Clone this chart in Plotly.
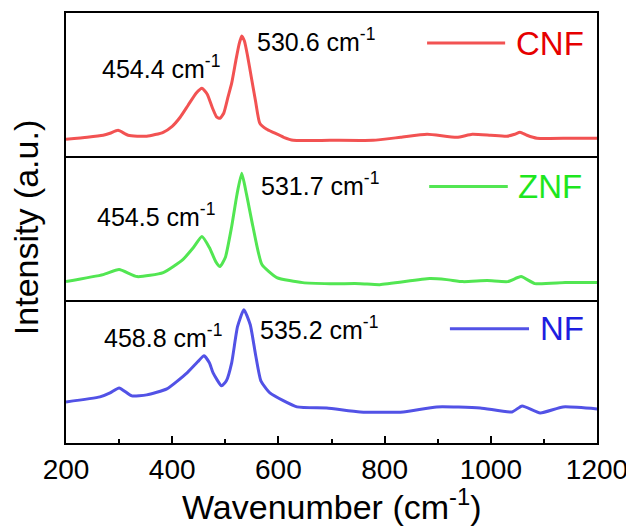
import plotly.graph_objects as go
from plotly.subplots import make_subplots

# ---- data (wavenumber in cm^-1, intensity in arbitrary units) ----
cnf_x = [200, 240, 270, 283, 298, 317, 352, 383, 400, 415, 430, 445, 456, 466, 476, 484, 490, 497, 505, 512,
         520, 526, 531, 536, 542, 549, 557, 565, 578, 590, 610, 628, 697, 778, 830, 880, 936, 965, 1000, 1030,
         1045, 1055, 1068, 1087, 1150, 1200]
cnf_y = [17, 19, 21, 23, 26, 21, 20, 24, 30, 39, 51, 63, 68, 62, 48, 39, 38, 43, 59, 73,
         96, 112, 120, 115, 100, 79, 55, 33, 27, 24, 19, 16, 16, 16, 19, 22, 19, 22, 21, 20,
         22, 24, 21, 18, 18, 18]

znf_x = [200, 270, 300, 334, 383, 420, 440, 456, 470, 482, 490, 500, 512, 522, 531, 540, 552, 569, 597, 646,
         697, 754, 791, 885, 917, 948, 993, 1032, 1057, 1083, 1140, 1200]
znf_y = [18, 25, 30, 23, 27, 40, 52, 63, 52, 38, 33, 42, 73, 105, 126, 105, 73, 35, 22, 17,
         16, 16, 15, 21, 20, 18, 19, 18, 23, 16, 17, 17]

nf_x = [200, 264, 283, 300, 324, 352, 390, 428, 448, 460, 470, 477, 493, 502, 512, 523, 535, 547, 557, 567,
        584, 635, 691, 754, 835, 898, 980, 1040, 1059, 1093, 1136, 1200]
nf_y = [41, 46, 50, 55, 47, 48, 54, 70, 81, 87, 80, 70, 57, 62, 80, 116, 133, 118, 88, 62,
        50, 36, 35, 31, 31, 36, 35, 31, 37, 30, 36, 34]

series_names = ["CNF", "ZNF", "NF"]
peak_labels = [["454.4", "530.6"], ["454.5", "531.7"], ["458.8", "535.2"]]
x_ticks = [200, 400, 600, 800, 1000, 1200]

line_colors = ["#f25252", "#52e652", "#5252e6"]
text_colors = ["#e60000", "#1ee61e", "#1e1ee0"]

fig = make_subplots(rows=3, cols=1, shared_xaxes=True, vertical_spacing=0)

data = [(cnf_x, cnf_y), (znf_x, znf_y), (nf_x, nf_y)]
for i, (xs, ys) in enumerate(data):
    fig.add_trace(go.Scatter(x=xs, y=ys, mode="lines", name=series_names[i],
                             line=dict(color=line_colors[i], width=3, shape="spline", smoothing=0.5),
                             showlegend=False), row=i + 1, col=1)

FONT = "Liberation Sans, Arial, sans-serif"

for r in range(1, 4):
    fig.update_yaxes(range=[0, 143], showline=True, mirror=True, linecolor="black", linewidth=2,
                     ticks="", showticklabels=False, showgrid=False, zeroline=False, automargin=False,
                     row=r, col=1)
    fig.update_xaxes(range=[200, 1200], showline=True, mirror=(r == 1), linecolor="black", linewidth=2,
                     showgrid=False, zeroline=False, automargin=False, row=r, col=1)
for r in (1, 2):
    fig.update_xaxes(ticks="", showticklabels=False, row=r, col=1)
fig.update_xaxes(ticks="inside", ticklen=7, tickwidth=2, tickcolor="black",
                 tickvals=x_ticks, ticktext=[str(v) for v in x_ticks], showticklabels=True,
                 tickfont=dict(family=FONT, size=28, color="black"),
                 minor=dict(dtick=100, tick0=200, ticks="inside", ticklen=4, tickwidth=2, tickcolor="black"),
                 row=3, col=1)

# peak labels
lab_pos = [[(264, 89), (556, 116)], [(255, 84), (563, 115)], [(268, 107), (562, 115)]]
axes_ref = [("x", "y"), ("x2", "y2"), ("x3", "y3")]
for i in range(3):
    xr, yr = axes_ref[i]
    for j in range(2):
        px, py = lab_pos[i][j]
        fig.add_annotation(x=px, y=py, xref=xr, yref=yr, xanchor="left", yanchor="middle",
                           text=peak_labels[i][j] + " cm<sup>-1</sup>", showarrow=False,
                           font=dict(family=FONT, size=25, color="black"))

# legend samples
leg_line = [(880, 1027, 113), (884, 1032, 113), (923, 1072, 114)]
leg_text = [1044, 1047, 1089]
for i in range(3):
    xr, yr = axes_ref[i]
    x0, x1, yy = leg_line[i]
    fig.add_shape(type="line", x0=x0, x1=x1, y0=yy, y1=yy, xref=xr, yref=yr,
                  line=dict(color=line_colors[i], width=3))
    fig.add_annotation(x=leg_text[i], y=yy, xref=xr, yref=yr, xanchor="left", yanchor="middle",
                       text=series_names[i], showarrow=False,
                       font=dict(family=FONT, size=33, color=text_colors[i]))

fig.add_annotation(x=-0.075, y=0.5, xref="paper", yref="paper", textangle=-90,
                   text="Intensity (a.u.)", showarrow=False, xanchor="center", yanchor="middle",
                   font=dict(family=FONT, size=34, color="black"))
fig.add_annotation(x=0.5, y=-0.142, xref="paper", yref="paper",
                   text="Wavenumber (cm<sup>-1</sup>)", showarrow=False, xanchor="center", yanchor="middle",
                   font=dict(family=FONT, size=34, color="black"))

# the page body adds an 8px offset, so the figure is 8px smaller and margins compensate
fig.update_layout(width=626, height=521, margin=dict(l=58, r=37, t=5, b=86, autoexpand=False),
                  paper_bgcolor="white", plot_bgcolor="white", showlegend=False)

fig.write_html("out.html")
